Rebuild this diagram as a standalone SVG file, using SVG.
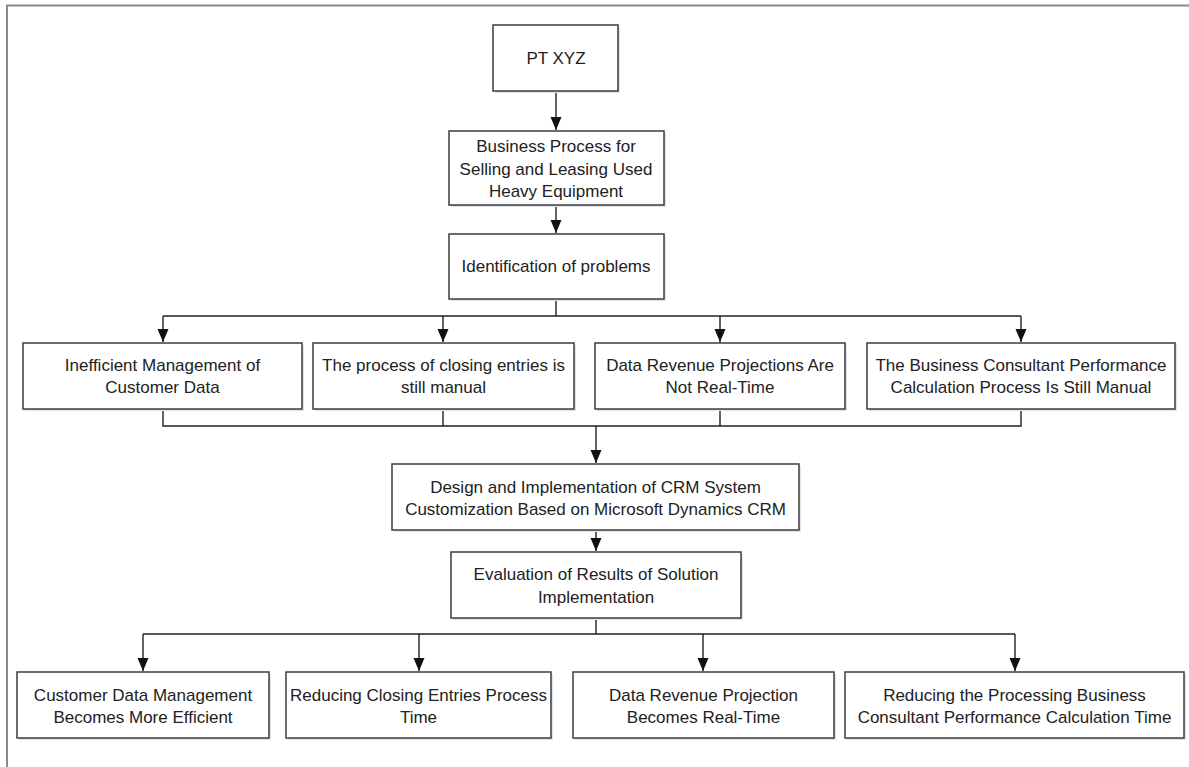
<svg xmlns="http://www.w3.org/2000/svg" width="1189" height="767" viewBox="0 0 1189 767">
<style>
.box{fill:#fff;stroke:#3c3c3c;stroke-width:1.5}
.sh{fill:#dfe3ea}
.t{font-family:"Liberation Sans",Arial,sans-serif;font-size:17px;fill:#222;text-anchor:middle}
.c{fill:none;stroke:#222;stroke-width:1.4}
.frame{fill:none;stroke:#8a8a8a;stroke-width:2}
</style>
<defs>
<marker id="ah" markerUnits="userSpaceOnUse" markerWidth="14" markerHeight="12" refX="13" refY="6" orient="auto" viewBox="0 0 14 12">
<path d="M0,0.5 L13,6 L0,11.5 Z" fill="#111"/>
</marker>
</defs>
<rect width="1189" height="767" fill="#fff"/>
<path class="frame" d="M7,767 L7,5.5 L1189,5.5"/>

<g id="connectors">
<path class="c" d="M556,91 V130" marker-end="url(#ah)"/>
<path class="c" d="M556,205 V233" marker-end="url(#ah)"/>
<path class="c" d="M556,299 V316 M163,316 H1021"/>
<path class="c" d="M163,316 V342" marker-end="url(#ah)"/>
<path class="c" d="M443,316 V342" marker-end="url(#ah)"/>
<path class="c" d="M720,316 V342" marker-end="url(#ah)"/>
<path class="c" d="M1021,316 V342" marker-end="url(#ah)"/>
<path class="c" d="M163,409 V426 H1021 V409 M443,409 V426 M720,409 V426"/>
<path class="c" d="M596,426 V463" marker-end="url(#ah)"/>
<path class="c" d="M596,530 V551" marker-end="url(#ah)"/>
<path class="c" d="M596,618 V634 M143,634 H1015"/>
<path class="c" d="M143,634 V671" marker-end="url(#ah)"/>
<path class="c" d="M419,634 V671" marker-end="url(#ah)"/>
<path class="c" d="M703,634 V671" marker-end="url(#ah)"/>
<path class="c" d="M1015,634 V671" marker-end="url(#ah)"/>
</g>

<g id="pt-xyz">
<rect class="sh" x="495" y="27" width="125" height="66"/>
<rect class="box" x="493" y="25" width="125" height="66"/>
<text class="t" x="556" y="64">PT XYZ</text>
</g>
<g id="business-process">
<rect class="sh" x="451" y="133" width="215" height="74"/>
<rect class="box" x="449" y="131" width="215" height="74"/>
<text class="t" x="556" y="152">Business Process for</text>
<text class="t" x="556" y="174.5">Selling and Leasing Used</text>
<text class="t" x="556" y="197">Heavy Equipment</text>
</g>
<g id="identification">
<rect class="sh" x="451" y="236" width="215" height="65"/>
<rect class="box" x="449" y="234" width="215" height="65"/>
<text class="t" x="556" y="272">Identification of problems</text>
</g>

<g id="problem-1">
<rect class="sh" x="25" y="345" width="279" height="66"/>
<rect class="box" x="23" y="343" width="279" height="66"/>
<text class="t" x="162.5" y="371">Inefficient Management of</text>
<text class="t" x="162.5" y="393">Customer Data</text>
</g>
<g id="problem-2">
<rect class="sh" x="315" y="345" width="261" height="66"/>
<rect class="box" x="313" y="343" width="261" height="66"/>
<text class="t" x="443.5" y="371">The process of closing entries is</text>
<text class="t" x="443.5" y="393">still manual</text>
</g>
<g id="problem-3">
<rect class="sh" x="597" y="345" width="250" height="66"/>
<rect class="box" x="595" y="343" width="250" height="66"/>
<text class="t" x="720" y="371">Data Revenue Projections Are</text>
<text class="t" x="720" y="393">Not Real-Time</text>
</g>
<g id="problem-4">
<rect class="sh" x="869" y="345" width="308" height="66"/>
<rect class="box" x="867" y="343" width="308" height="66"/>
<text class="t" x="1021" y="371">The Business Consultant Performance</text>
<text class="t" x="1021" y="393">Calculation Process Is Still Manual</text>
</g>

<g id="design-implementation">
<rect class="sh" x="394" y="466" width="407" height="66"/>
<rect class="box" x="392" y="464" width="407" height="66"/>
<text class="t" x="595.5" y="493">Design and Implementation of CRM System</text>
<text class="t" x="595.5" y="515">Customization Based on Microsoft Dynamics CRM</text>
</g>
<g id="evaluation">
<rect class="sh" x="453" y="554" width="290" height="66"/>
<rect class="box" x="451" y="552" width="290" height="66"/>
<text class="t" x="596" y="580">Evaluation of Results of Solution</text>
<text class="t" x="596" y="603">Implementation</text>
</g>

<g id="result-1">
<rect class="sh" x="19" y="674" width="252" height="66"/>
<rect class="box" x="17" y="672" width="252" height="66"/>
<text class="t" x="143" y="701">Customer Data Management</text>
<text class="t" x="143" y="723">Becomes More Efficient</text>
</g>
<g id="result-2">
<rect class="sh" x="288" y="674" width="265" height="66"/>
<rect class="box" x="286" y="672" width="265" height="66"/>
<text class="t" x="418.5" y="701">Reducing Closing Entries Process</text>
<text class="t" x="418.5" y="723">Time</text>
</g>
<g id="result-3">
<rect class="sh" x="575" y="674" width="261" height="66"/>
<rect class="box" x="573" y="672" width="261" height="66"/>
<text class="t" x="703.5" y="701">Data Revenue Projection</text>
<text class="t" x="703.5" y="723">Becomes Real-Time</text>
</g>
<g id="result-4">
<rect class="sh" x="847" y="674" width="339" height="66"/>
<rect class="box" x="845" y="672" width="339" height="66"/>
<text class="t" x="1014.5" y="701">Reducing the Processing Business</text>
<text class="t" x="1014.5" y="723">Consultant Performance Calculation Time</text>
</g>
</svg>
